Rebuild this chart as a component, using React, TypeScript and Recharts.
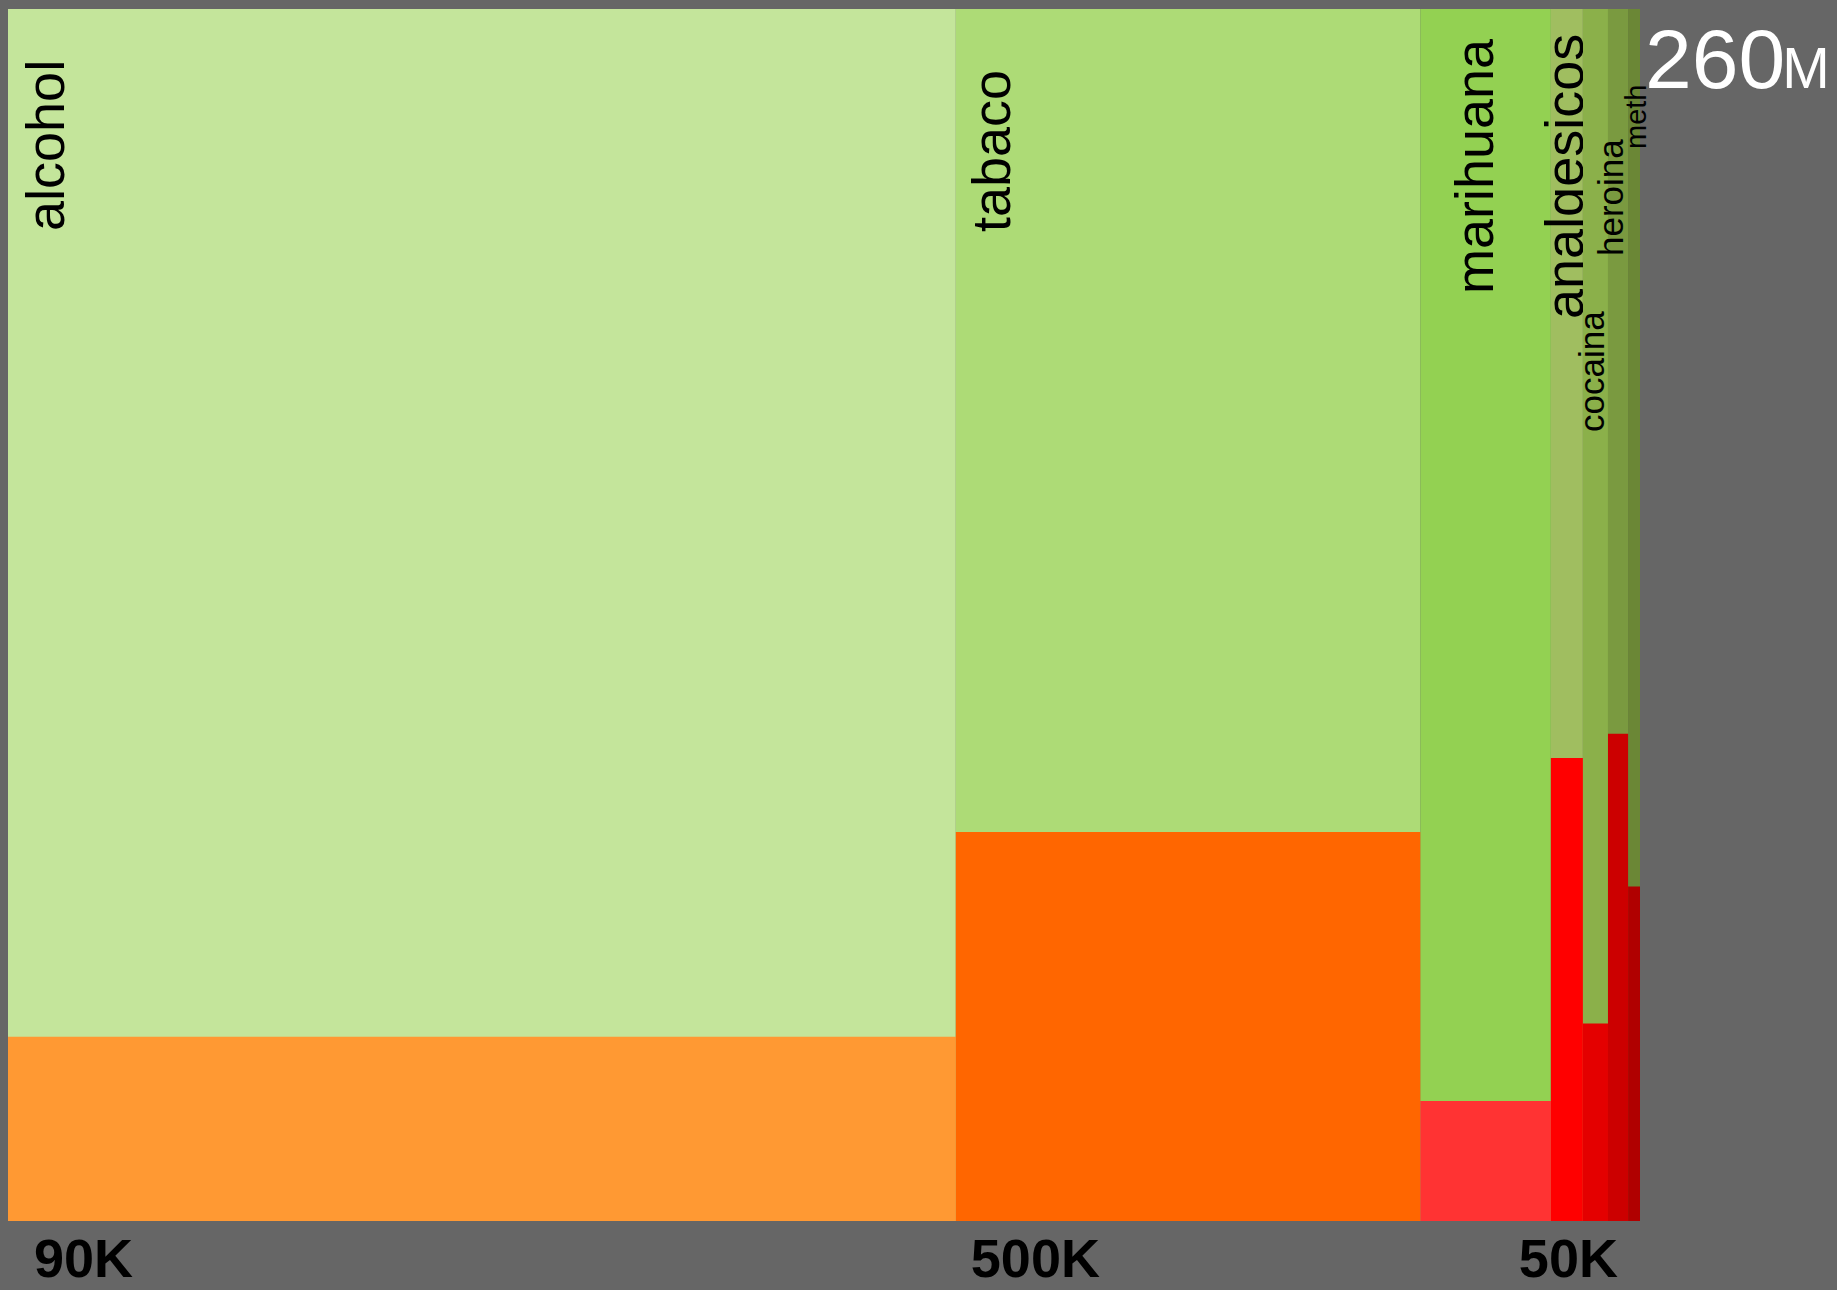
import React from "react";
import { ComposedChart, XAxis, YAxis, Area } from "recharts";

const drugs = ["alcohol", "tabaco", "marihuana", "analgesicos", "cocaina", "heroina", "meth"];
// users in millions -> width of each column
const users = [151, 74, 20.8, 5.1, 4, 3.2, 1.9];
// % of users that end up dependent -> height of the red part
const dependence = [15.2, 32.1, 9.9, 38.2, 16.3, 40.2, 27.6];
// yearly deaths, printed under the columns
const deaths = ["90K", "500K", "", "50K", "", "", ""];

const greens = ["#c4e59b", "#addb76", "#93d152", "#a0be60", "#8bb04a", "#7a9a40", "#6b8736"];
const reds = ["#ff9933", "#ff6600", "#ff3333", "#ff0000", "#e40000", "#cc0000", "#b00000"];

const FONT = "'Liberation Sans', Arial, sans-serif";

// where each name sits inside its column (baseline offset from left edge, start offset from top)
const nameLayout: Record<string, { dx: number; dy: number; size: number }> = {
  alcohol: { dx: 56, dy: 222, size: 54 },
  tabaco: { dx: 54, dy: 223, size: 54 },
  marihuana: { dx: 73, dy: 285, size: 54 },
  analgesicos: { dx: 32, dy: 310, size: 54 },
  cocaina: { dx: 21, dy: 423, size: 35 },
  heroina: { dx: 15, dy: 247, size: 35 },
  meth: { dx: 18, dy: 140, size: 29 },
};
const deathDx: Record<string, number> = { alcohol: 26, tabaco: 15, analgesicos: -32 };

const starts = users.map((_, i) => users.slice(0, i).reduce((a, b) => a + b, 0));
const total = users.reduce((a, b) => a + b, 0);

// each column is a flat area from its start to its end
const span = (i: number, v: number) => [
  { x: starts[i], v },
  { x: starts[i] + users[i], v },
];

const isLast = (i: number) => i === drugs.length - 1;

// name at the left end of a column; a name is cut off where the next column
// begins (that column defines the clip). The last column also carries the total.
function columnLabel(i: number) {
  return (props: any) => {
    if (props.index === 1) {
      if (!isLast(i)) return null;
      return (
        <text x={props.x + 5} y={props.y + 79} fontFamily={FONT} fill="#fff">
          <tspan fontSize={84}>{Math.round(total)}</tspan>
          <tspan fontSize={57} dx={-3}>M</tspan>
        </text>
      );
    }
    const name = drugs[i];
    const l = nameLayout[name];
    return (
      <g>
        {i > 0 && (
          <defs>
            <clipPath id={`upto-${i}`}>
              <rect x={0} y={0} width={props.x} height={2000} />
            </clipPath>
          </defs>
        )}
        <g clipPath={isLast(i) ? undefined : `url(#upto-${i + 1})`}>
          <text
            transform={`translate(${props.x + l.dx},${props.y + l.dy}) rotate(-90)`}
            fontFamily={FONT}
            fontSize={l.size}
            fill="#000"
            textAnchor="start"
          >
            {name}
          </text>
        </g>
      </g>
    );
  };
}

const DeathTick = (props: any) => {
  const i = starts.findIndex((s) => s === props.payload.value);
  if (i < 0 || !deaths[i]) return null;
  return (
    <text
      x={props.x + (deathDx[drugs[i]] ?? 0)}
      y={props.y + 56}
      fontFamily={FONT}
      fontWeight="bold"
      fontSize={54}
      fill="#000"
    >
      {deaths[i]}
    </text>
  );
};

export default function App() {
  return (
    <div
      style={{
        position: "absolute",
        left: 0,
        top: 0,
        width: 1837,
        height: 1290,
        background: "#666666",
      }}
    >
      <ComposedChart
        width={1837}
        height={1290}
        margin={{ top: 9, right: 197, bottom: 0, left: 8 }}
      >
        <XAxis
          type="number"
          dataKey="x"
          domain={[0, total]}
          allowDataOverflow
          ticks={starts}
          interval={0}
          tick={<DeathTick />}
          tickSize={0}
          tickMargin={0}
          axisLine={false}
          tickLine={false}
          height={69}
        />
        <YAxis type="number" domain={[0, 100]} allowDataOverflow hide />
        {drugs.map((d, i) => (
          <Area
            key={`g-${d}`}
            data={span(i, 100)}
            dataKey="v"
            type="linear"
            fill={greens[i]}
            fillOpacity={1}
            stroke="none"
            isAnimationActive={false}
            label={columnLabel(i)}
          />
        ))}
        {drugs.map((d, i) => (
          <Area
            key={`r-${d}`}
            data={span(i, dependence[i])}
            dataKey="v"
            type="linear"
            fill={reds[i]}
            fillOpacity={1}
            stroke="none"
            isAnimationActive={false}
          />
        ))}
      </ComposedChart>
    </div>
  );
}
